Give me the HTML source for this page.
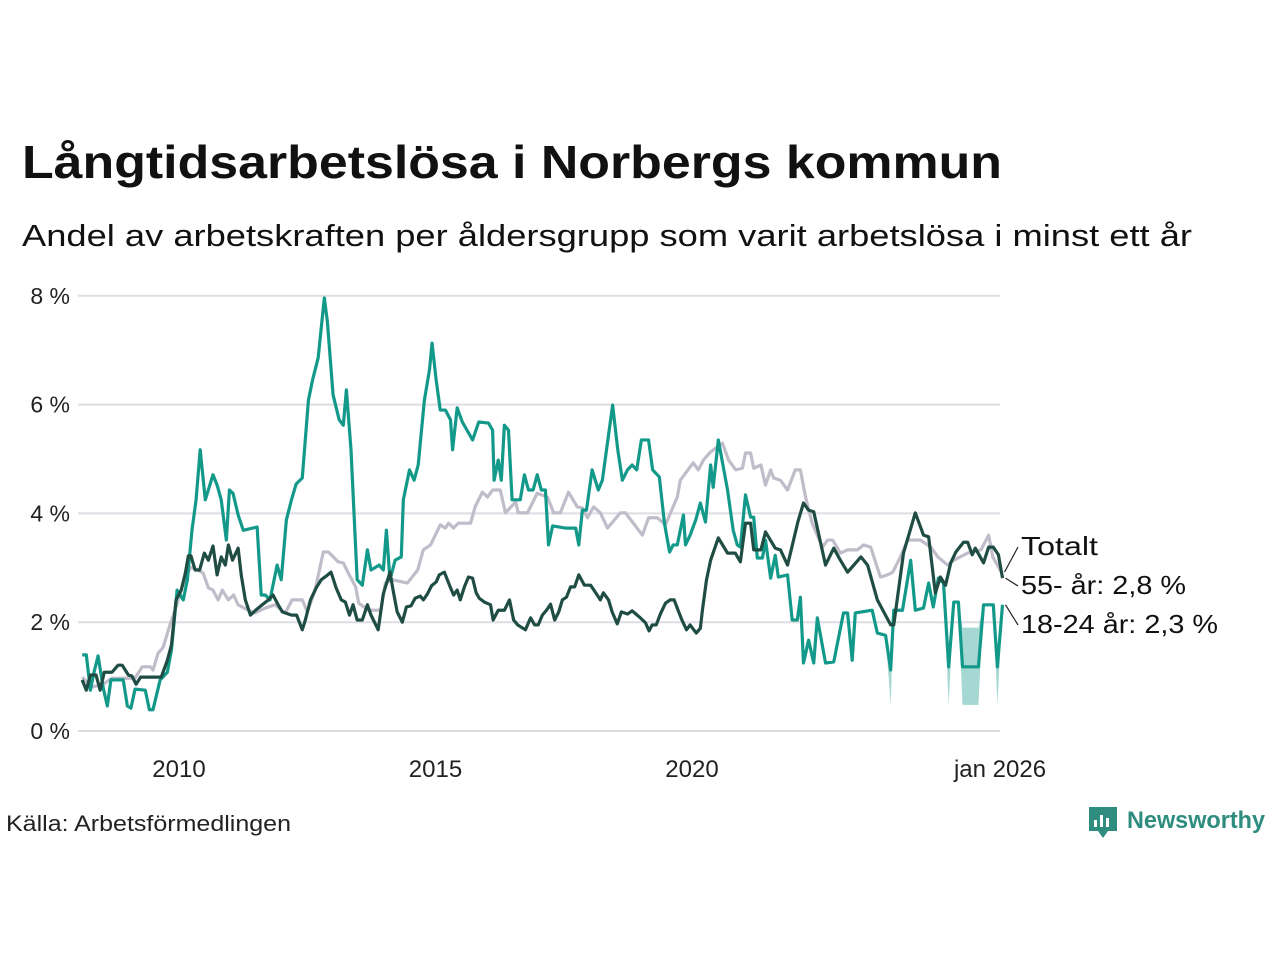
<!DOCTYPE html>
<html><head><meta charset="utf-8"><style>
html,body{margin:0;padding:0;background:#fff;}
svg{display:block;font-family:"Liberation Sans",sans-serif;}
</style></head><body>
<svg id="chart" width="1280" height="960" viewBox="0 0 1280 960" xmlns="http://www.w3.org/2000/svg">
<text x="22" y="178" font-size="46" font-weight="bold" fill="#111" textLength="980" lengthAdjust="spacingAndGlyphs">Långtidsarbetslösa i Norbergs kommun</text>
<text x="22" y="246" font-size="31" fill="#111" textLength="1170" lengthAdjust="spacingAndGlyphs">Andel av arbetskraften per åldersgrupp som varit arbetslösa i minst ett år</text>
<g id="grid"></g>
<g id="yticks"></g>
<g id="xticks"></g>
<g id="band"></g>
<g id="lines"></g>
<g id="labels"></g>
<text x="6" y="831" font-size="22" fill="#222" textLength="285" lengthAdjust="spacingAndGlyphs">Källa: Arbetsförmedlingen</text>
<g>
<path d="M1089 807h28v24h-9l-5 7l-5-7h-9z" fill="#2e8d7f"/>
<rect x="1094" y="820" width="3" height="7" fill="#fff"/><rect x="1100" y="815" width="3" height="12" fill="#fff"/><rect x="1106" y="818" width="3" height="9" fill="#fff"/>
<text x="1127" y="828" font-size="24" font-weight="bold" fill="#2e8d7f" textLength="138" lengthAdjust="spacingAndGlyphs">Newsworthy</text>
</g>
</svg>
<script>
const yTicks = [0, 2, 4, 6, 8];
const xTickYears = [2010, 2015, 2020];
const xTickLabels = ["2010", "2015", "2020"];
const lastLabel = "jan 2026";

const dates18 = [2007.84,2007.92,2008.00,2008.07,2008.15,2008.25,2008.33,2008.40,2008.64,2008.72,2008.79,2008.87,2009.07,2009.15,2009.22,2009.36,2009.50,2009.58,2009.69,2009.81,2009.89,2009.98,2010.06,2010.14,2010.24,2010.39,2010.47,2010.55,2010.65,2010.71,2010.78,2010.88,2010.98,2011.25,2011.33,2011.41,2011.50,2011.64,2011.72,2011.82,2011.92,2012.01,2012.13,2012.25,2012.33,2012.44,2012.56,2012.62,2012.73,2012.85,2012.93,2012.99,2013.08,2013.20,2013.30,2013.40,2013.47,2013.63,2013.71,2013.77,2013.84,2013.94,2014.06,2014.10,2014.22,2014.31,2014.39,2014.51,2014.61,2014.66,2014.74,2014.82,2014.92,2015.02,2015.06,2015.15,2015.25,2015.45,2015.57,2015.76,2015.84,2015.87,2015.95,2016.01,2016.07,2016.15,2016.22,2016.38,2016.46,2016.54,2016.63,2016.71,2016.79,2016.87,2016.93,2017.01,2017.26,2017.46,2017.52,2017.59,2017.67,2017.78,2017.90,2017.98,2018.18,2018.28,2018.37,2018.47,2018.56,2018.65,2018.74,2018.88,2018.96,2019.09,2019.19,2019.29,2019.36,2019.44,2019.56,2019.60,2019.69,2019.80,2019.89,2019.99,2020.09,2020.14,2020.24,2020.42,2020.53,2020.61,2020.67,2020.77,2020.87,2020.93,2021.00,2021.10,2021.16,2021.26,2021.35,2021.41,2021.59,2021.68,2021.78,2021.84,2021.90,2022.00,2022.10,2022.17,2022.33,2022.49,2022.68,2022.76,2022.85,2022.91,2023.24,2023.34,2023.50,2023.60,2023.66,2023.83,2023.99,2024.08,2024.24,2024.34,2024.43,2024.53,2024.63,2024.73,2024.83,2024.92,2025.00,2025.31,2025.41,2025.60,2025.68,2025.78];
const values18 = [1.40,1.40,0.75,1.08,1.38,0.79,0.46,0.94,0.94,0.46,0.42,0.77,0.75,0.39,0.39,0.94,1.08,1.49,2.59,2.41,2.78,3.69,4.25,5.17,4.25,4.71,4.52,4.25,3.51,4.43,4.37,3.97,3.69,3.75,2.50,2.50,2.41,3.05,2.78,3.88,4.25,4.54,4.65,6.08,6.45,6.86,7.96,7.52,6.18,5.72,5.62,6.27,5.17,2.78,2.68,3.33,2.96,3.05,2.96,3.69,2.78,3.14,3.20,4.25,4.80,4.61,4.89,6.08,6.64,7.13,6.45,5.90,5.90,5.72,5.17,5.94,5.68,5.35,5.68,5.66,5.53,4.61,4.98,4.61,5.62,5.53,4.25,4.25,4.71,4.43,4.43,4.71,4.43,4.43,3.42,3.77,3.73,3.73,3.42,4.06,4.06,4.80,4.43,4.61,5.99,5.17,4.61,4.80,4.89,4.80,5.35,5.35,4.80,4.67,3.82,3.29,3.42,3.42,3.97,3.42,3.60,3.88,4.19,3.84,4.89,4.48,5.35,4.43,3.69,3.42,3.38,4.34,3.93,3.93,3.18,3.18,3.51,2.81,3.23,2.83,2.87,2.04,2.04,2.46,1.25,1.67,1.25,2.08,1.25,1.27,2.17,2.17,1.30,2.17,2.22,1.80,1.76,1.12,2.22,2.22,3.14,2.22,2.26,2.72,2.28,2.81,2.72,1.18,2.37,2.37,1.18,1.18,2.32,2.32,1.18,2.32];

const dates55 = [2007.84,2007.92,2008.00,2008.11,2008.19,2008.27,2008.42,2008.54,2008.62,2008.74,2008.81,2008.89,2008.98,2009.38,2009.50,2009.58,2009.67,2009.77,2009.85,2009.91,2009.96,2010.04,2010.13,2010.22,2010.30,2010.39,2010.47,2010.55,2010.63,2010.69,2010.77,2010.88,2010.94,2011.02,2011.12,2011.22,2011.35,2011.47,2011.56,2011.66,2011.74,2011.92,2012.02,2012.13,2012.19,2012.29,2012.40,2012.50,2012.60,2012.69,2012.79,2012.89,2012.97,2013.05,2013.12,2013.20,2013.30,2013.40,2013.47,2013.61,2013.71,2013.84,2013.90,2013.98,2014.08,2014.16,2014.25,2014.33,2014.43,2014.49,2014.57,2014.65,2014.74,2014.80,2014.90,2015.00,2015.08,2015.15,2015.21,2015.29,2015.37,2015.45,2015.52,2015.58,2015.68,2015.80,2015.85,2015.95,2016.07,2016.17,2016.25,2016.33,2016.48,2016.58,2016.66,2016.73,2016.81,2016.89,2016.97,2017.05,2017.13,2017.20,2017.28,2017.36,2017.44,2017.52,2017.63,2017.75,2017.83,2017.94,2018.00,2018.10,2018.17,2018.27,2018.35,2018.47,2018.56,2018.72,2018.82,2018.89,2018.95,2019.03,2019.11,2019.21,2019.30,2019.38,2019.46,2019.54,2019.62,2019.69,2019.81,2019.89,2019.93,2020.01,2020.09,2020.24,2020.42,2020.57,2020.67,2020.77,2020.87,2020.93,2021.07,2021.16,2021.35,2021.45,2021.59,2021.79,2021.90,2022.00,2022.10,2022.33,2022.49,2022.62,2022.76,2023.02,2023.15,2023.34,2023.60,2023.66,2023.85,2024.08,2024.24,2024.34,2024.47,2024.57,2024.67,2024.77,2024.87,2025.02,2025.10,2025.19,2025.25,2025.41,2025.51,2025.60,2025.70,2025.78];
const values55 = [0.94,0.75,1.03,1.03,0.75,1.08,1.08,1.21,1.21,1.03,1.01,0.86,0.99,0.99,1.30,1.58,2.41,2.59,2.90,3.22,3.22,2.96,2.96,3.27,3.14,3.40,2.87,3.20,3.05,3.42,3.14,3.36,2.87,2.41,2.13,2.22,2.32,2.41,2.50,2.32,2.19,2.13,2.13,1.86,2.04,2.41,2.63,2.78,2.85,2.92,2.63,2.41,2.37,2.13,2.32,2.04,2.04,2.32,2.13,1.86,2.52,2.92,2.59,2.19,2.00,2.28,2.30,2.44,2.48,2.41,2.52,2.67,2.74,2.87,2.92,2.68,2.50,2.59,2.41,2.65,2.83,2.81,2.54,2.44,2.37,2.32,2.04,2.22,2.22,2.41,2.04,1.95,1.86,2.08,1.95,1.95,2.13,2.22,2.33,2.04,2.19,2.41,2.46,2.65,2.65,2.87,2.68,2.68,2.57,2.41,2.54,2.41,2.19,1.97,2.19,2.15,2.21,2.08,1.99,1.84,1.95,1.95,2.15,2.35,2.41,2.41,2.21,2.02,1.86,1.95,1.80,1.89,2.22,2.78,3.14,3.55,3.27,3.27,3.11,3.82,3.82,3.33,3.33,3.66,3.36,3.33,3.05,3.84,4.19,4.06,4.03,3.05,3.36,3.14,2.92,3.20,3.05,2.41,1.95,1.95,3.27,4.01,3.60,3.57,2.54,2.83,2.68,3.09,3.29,3.47,3.47,3.24,3.36,3.09,3.38,3.38,3.24,2.81];

const datesTot = [2007.84,2008.03,2008.23,2008.42,2008.87,2009.01,2009.17,2009.22,2009.32,2009.42,2009.52,2009.65,2009.79,2009.95,2010.10,2010.20,2010.30,2010.39,2010.49,2010.57,2010.69,2010.79,2010.88,2011.08,2011.21,2011.41,2011.60,2011.80,2011.93,2012.13,2012.23,2012.38,2012.54,2012.64,2012.83,2012.93,2013.03,2013.17,2013.23,2013.42,2013.66,2013.75,2013.89,2014.18,2014.38,2014.49,2014.63,2014.82,2014.92,2014.98,2015.08,2015.17,2015.41,2015.50,2015.64,2015.74,2015.84,2015.99,2016.09,2016.29,2016.34,2016.52,2016.71,2016.91,2017.03,2017.16,2017.32,2017.49,2017.59,2017.69,2017.81,2017.94,2018.08,2018.33,2018.43,2018.76,2018.88,2019.05,2019.21,2019.44,2019.50,2019.75,2019.85,2019.95,2020.09,2020.32,2020.44,2020.58,2020.71,2020.77,2020.87,2020.93,2021.07,2021.16,2021.26,2021.32,2021.45,2021.59,2021.74,2021.84,2021.94,2022.07,2022.27,2022.37,2022.47,2022.62,2022.76,2022.95,2023.07,2023.21,2023.40,2023.54,2023.64,2023.79,2023.93,2024.18,2024.38,2024.52,2024.71,2024.83,2025.10,2025.36,2025.51,2025.59,2025.76];
const valuesTot = [0.99,0.81,0.85,0.97,0.97,1.18,1.18,1.12,1.43,1.54,1.86,2.22,2.65,3.01,2.96,2.90,2.63,2.59,2.41,2.59,2.41,2.50,2.32,2.22,2.17,2.26,2.32,2.17,2.41,2.41,2.19,2.59,3.29,3.29,3.11,3.09,2.90,2.65,2.35,2.22,2.22,2.72,2.78,2.72,2.96,3.33,3.42,3.79,3.73,3.82,3.73,3.82,3.82,4.12,4.39,4.30,4.43,4.43,4.01,4.21,4.01,4.01,4.37,4.30,4.01,4.01,4.39,4.12,4.10,3.92,4.12,4.01,3.73,4.01,4.01,3.60,3.92,3.92,3.79,4.30,4.61,4.93,4.80,4.98,5.13,5.29,4.98,4.80,4.83,5.11,5.11,4.83,4.89,4.52,4.80,4.65,4.61,4.43,4.80,4.80,4.30,3.82,3.38,3.51,3.51,3.27,3.33,3.33,3.42,3.38,2.83,2.87,2.92,3.20,3.51,3.51,3.38,3.20,3.05,3.14,3.27,3.33,3.60,3.20,2.92];

const bandDates = [[2023.50,2023.60,2023.66],[2024.63,2024.73,2024.83],[2024.92,2025.00,2025.31,2025.41],[2025.60,2025.68,2025.78]];
const bandLow = [[1.76,0.48,2.22],[2.72,0.48,2.37],[2.37,0.48,0.48,2.32],[2.32,0.48,2.32]];
const bandHigh = [[1.76,1.12,2.22],[2.72,1.18,2.37],[2.37,1.9,1.9,2.32],[2.32,1.18,2.32]];

const NS = "http://www.w3.org/2000/svg";
function xs(d){ return 193 + (d - 2010) * 51.3; }
function ys(v){ return 731 - v * 54.4; }
function mk(tag, attrs, parent){ const e = document.createElementNS(NS, tag); for (const k in attrs) e.setAttribute(k, attrs[k]); parent.appendChild(e); return e; }

const grid = document.getElementById('grid');
const yt = document.getElementById('yticks');
yTicks.forEach(v => {
  const l = mk('line', {x1: 78, x2: 1000, y1: ys(v), y2: ys(v), stroke: '#dedde3', 'stroke-width': 2}, grid);
  
  
  const t = mk('text', {x: 70, y: ys(v) + 8, 'font-size': 23, fill: '#222', 'text-anchor': 'end'}, yt);
  t.textContent = v + ' %';
  
  
});
const xt = document.getElementById('xticks');
xTickYears.forEach((yr, i) => {
  const t = mk('text', {x: xs(yr) - 14, y: 777, 'font-size': 24, fill: '#222', 'text-anchor': 'middle'}, xt);
  t.textContent = xTickLabels[i];
  
  
});
const lt = mk('text', {x: 1000, y: 777, 'font-size': 24, fill: '#222', 'text-anchor': 'middle'}, xt);
lt.textContent = lastLabel;



const band = document.getElementById('band');
bandDates.forEach((ds, i) => {
  const top = ds.map((d, j) => xs(d) + ',' + ys(bandHigh[i][j]));
  const bot = ds.map((d, j) => xs(d) + ',' + ys(bandLow[i][j])).reverse();
  const p = mk('polygon', {points: top.concat(bot).join(' '), fill: '#13998a', opacity: 0.38}, band);
  
  
});

const lines = document.getElementById('lines');
function drawLine(ds, vs, color, name){
  const pts = ds.map((d, i) => xs(d) + ',' + ys(vs[i])).join(' ');
  const pl = mk('polyline', {points: pts, fill: 'none', stroke: color, 'stroke-width': 3.2, 'stroke-linejoin': 'round'}, lines);
  
  
}
drawLine(datesTot, valuesTot, '#c0bcc9', 'line-totalt');
drawLine(dates18, values18, '#13998a', 'line-18-24');
drawLine(dates55, values55, '#1f4d44', 'line-55');

const labels = document.getElementById('labels');
function endLabel(d, v, ly, txt, w, name){
  const c = mk('line', {x1: xs(d) + 3, y1: ys(v), x2: 1018, y2: ly - 8, stroke: '#222', 'stroke-width': 1.2}, labels);
  
  
  const t = mk('text', {x: 1021, y: ly, 'font-size': 26, fill: '#111', textLength: w, lengthAdjust: 'spacingAndGlyphs'}, labels);
  t.textContent = txt;
  
  
}
endLabel(datesTot[datesTot.length-1], valuesTot[valuesTot.length-1], 555, 'Totalt', 77, 'label-totalt');
endLabel(dates55[dates55.length-1], values55[values55.length-1], 594, '55- år: 2,8 %', 165, 'label-55');
endLabel(dates18[dates18.length-1], values18[values18.length-1], 633, '18-24 år: 2,3 %', 197, 'label-18-24');
</script>
</body></html>
